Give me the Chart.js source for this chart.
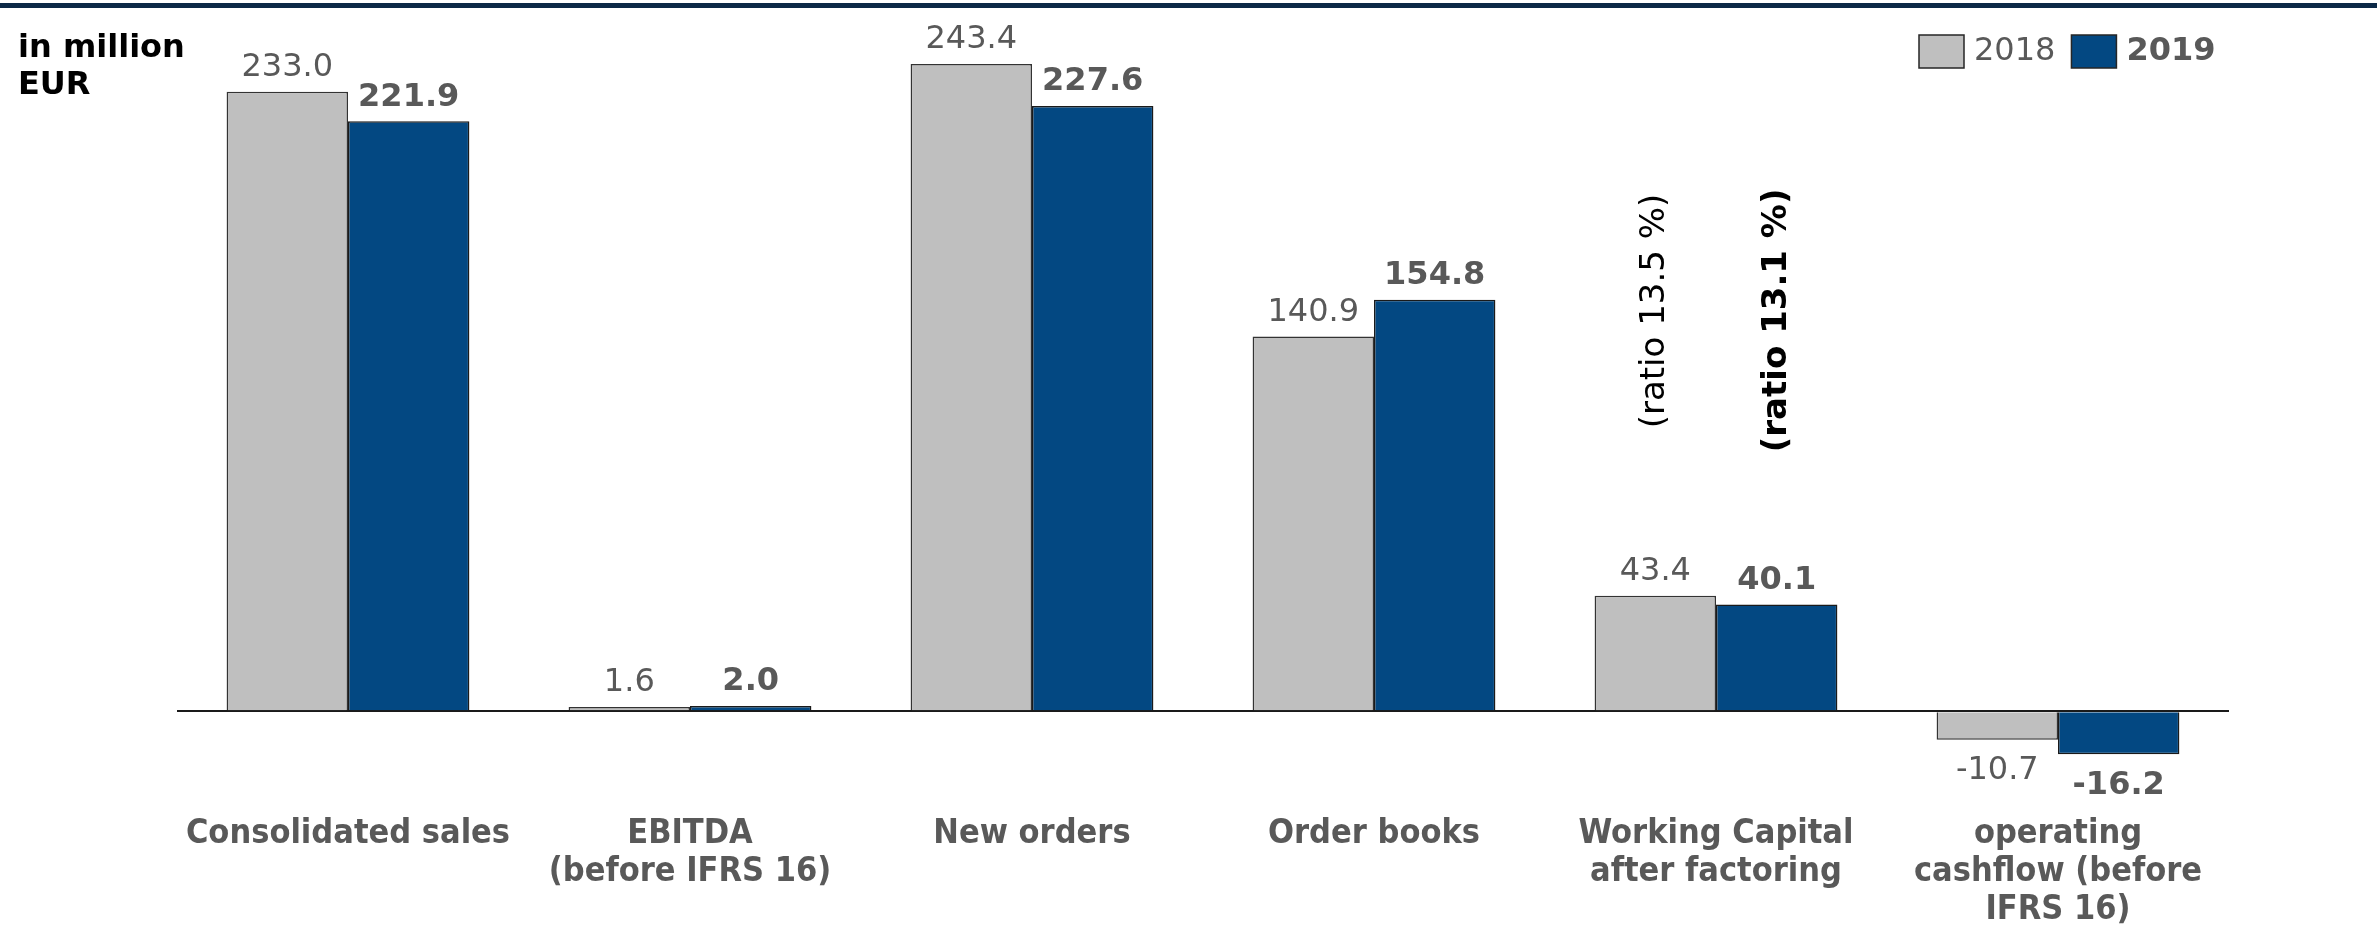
<!DOCTYPE html>
<html>
<head>
<meta charset="utf-8">
<title>Key figures 2018 / 2019</title>
<script src="https://cdn.jsdelivr.net/npm/chart.js@4/dist/chart.umd.min.js"></script>
<style>
  html, body { margin: 0; padding: 0; background: #ffffff; }
  #keyFigures { display: block; }
</style>
</head>
<body>
<canvas id="keyFigures" width="2377" height="929"></canvas>
<script>
// Données du graphique
const categories = [
    'Consolidated sales',
    ['EBITDA', '(before IFRS 16)'],
    'New orders',
    'Order books',
    ['Working Capital', 'after factoring'],
    ['operating', 'cashflow (before', 'IFRS 16)']
];
const seriesNames = ['2018', '2019'];
const values2018 = [233.0, 1.6, 243.4, 140.9, 43.4, -10.7];
const values2019 = [221.9, 2.0, 227.6, 154.8, 40.1, -16.2];
const ratioNotes = ['(ratio 13.5 %)', '(ratio 13.1 %)'];
const ratioIndex = 4;
const unitLabel = ['in million', 'EUR'];

const GREY = '#bfbfbf';
const BLUE = '#034882';
const TEXT = '#595959';
const FONT = "'DejaVu Sans', Verdana, sans-serif";
const FONT_COND = "'DejaVu Sans Condensed', 'Liberation Sans Narrow', 'DejaVu Sans', sans-serif";

// Habillage : filet du haut, unité, légende, annotations
const decorPlugin = {
    id: 'decor',
    beforeDraw(chart) {
        const ctx = chart.ctx;
        ctx.save();
        ctx.fillStyle = '#0c2947';
        ctx.fillRect(0, 3, chart.width, 5);
        ctx.restore();
    },
    afterDatasetsDraw(chart) {
        const ctx = chart.ctx;
        const y = chart.scales.y;
        ctx.save();

        // Étiquettes de valeurs
        chart.data.datasets.forEach((ds, di) => {
            const meta = chart.getDatasetMeta(di);
            ctx.font = (di === 1 ? 'bold ' : '') + '32px ' + FONT;
            ctx.fillStyle = TEXT;
            ctx.textAlign = 'center';
            ctx.textBaseline = 'middle';
            meta.data.forEach((el, i) => {
                const v = ds.data[i];
                const ty = v >= 0 ? el.y - 24 : el.y + 31;
                ctx.fillText(v.toFixed(1), el.x, ty);
            });
        });

        // Ratios verticaux au-dessus du working capital
        ratioNotes.forEach((txt, di) => {
            const el = chart.getDatasetMeta(di).data[ratioIndex];
            const cy = y.getPixelForValue(di === 0 ? 150.5 : 147);
            ctx.save();
            ctx.translate(el.x, cy);
            ctx.rotate(-Math.PI / 2);
            ctx.font = (di === 1 ? 'bold ' : '') + '34px ' + FONT;
            ctx.fillStyle = '#000000';
            ctx.textAlign = 'center';
            ctx.textBaseline = 'middle';
            ctx.fillText(txt, 0, 0);
            ctx.restore();
        });

        // Unité en haut à gauche
        ctx.font = 'bold 32px ' + FONT;
        ctx.fillStyle = '#000000';
        ctx.textAlign = 'left';
        ctx.textBaseline = 'alphabetic';
        ctx.fillText(unitLabel[0], 18, 57);
        ctx.fillText(unitLabel[1], 18, 94);

        // Légende
        let lx = 1919;
        const colors = [GREY, BLUE];
        seriesNames.forEach((name, i) => {
            ctx.fillStyle = colors[i];
            ctx.fillRect(lx, 35, 45, 33);
            ctx.strokeStyle = '#262626';
            ctx.lineWidth = 1.5;
            ctx.strokeRect(lx, 35, 45, 33);
            ctx.font = (i === 1 ? 'bold ' : '') + '32px ' + FONT;
            ctx.fillStyle = TEXT;
            ctx.textBaseline = 'middle';
            ctx.textAlign = 'left';
            ctx.fillText(name, lx + 55, 52);
            lx += 55 + ctx.measureText(name).width + 16;
        });

        ctx.restore();
    }
};

const ctx = document.getElementById('keyFigures').getContext('2d');
new Chart(ctx, {
    type: 'bar',
    data: {
        labels: categories,
        datasets: [{
            label: seriesNames[0],
            data: values2018,
            backgroundColor: GREY,
            borderColor: '#333333',
            borderWidth: 1.5,
            categoryPercentage: 0.71,
            barPercentage: 1.0
        }, {
            label: seriesNames[1],
            data: values2019,
            backgroundColor: BLUE,
            borderColor: '#1a1a1a',
            borderWidth: 1.5,
            categoryPercentage: 0.71,
            barPercentage: 1.0
        }]
    },
    options: {
        responsive: false,
        animation: false,
        layout: {
            padding: { left: 177, right: 148, top: 46.5, bottom: 3 }
        },
        plugins: {
            legend: { display: false },
            tooltip: { enabled: false }
        },
        scales: {
            x: {
                grid: { display: false, drawTicks: false },
                border: { display: false },
                afterFit: scale => { scale.height = 135; },
                ticks: {
                    color: TEXT,
                    padding: 24,
                    maxRotation: 0,
                    autoSkip: false,
                    font: { family: FONT_COND, size: 34, weight: 'bold', lineHeight: 38 / 34 }
                }
            },
            y: {
                min: -30,
                max: 250,
                border: { display: false },
                grid: {
                    drawTicks: false,
                    lineWidth: 2,
                    color: c => (c.tick && c.tick.value === 0 ? '#1a1a1a' : 'rgba(0,0,0,0)')
                },
                ticks: { display: false, stepSize: 10 }
            }
        }
    },
    plugins: [decorPlugin]
});
</script>
</body>
</html>
